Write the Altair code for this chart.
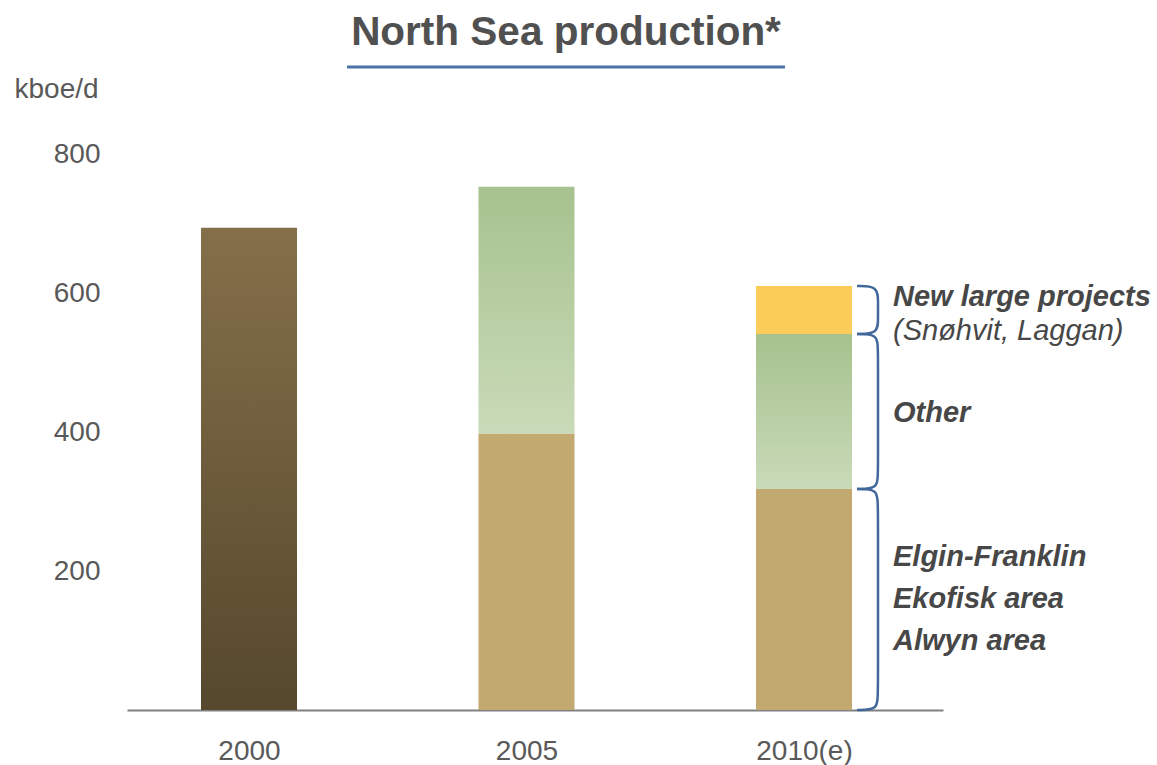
import altair as alt
import pandas as pd

# ---------------- data ----------------
years = ["2000", "2005", "2010(e)"]
seg_year = ["2000", "2005", "2005", "2010(e)", "2010(e)", "2010(e)"]
seg_name = ["Total", "Core", "Other", "Core", "Other", "New"]
seg_value = [694, 398, 355, 318, 223, 69]
y_ticks = [200, 400, 600, 800]

ann_text = ["New large projects", "(Snøhvit, Laggan)", "Other",
            "Elgin-Franklin", "Ekofisk area", "Alwyn area"]
ann_seg = ["New", "New", "Other", "Core", "Core", "Core"]
ann_weight = ["bold", "normal", "bold", "bold", "bold", "bold"]
ann_dy = [-13, 21, 2, -42, 0, 42]

title_text = "North Sea production*"
y_title = "kboe/d"

FONT = "Liberation Sans"
GREY = "#595959"
DARK = "#474747"
BLUE = "#41679b"

# ---------------- tables ----------------
rows = []
cum = {}
for yr, nm, v in zip(seg_year, seg_name, seg_value):
    s = cum.get(yr, 0)
    e = s + v
    cum[yr] = e
    rows.append(dict(pos=years.index(yr), year=yr, seg=nm, start=s, end=e))
seg_df = pd.DataFrame(rows)

last = seg_df[seg_df.year == years[-1]]
STEP = 277.5
x0 = 2 + 53 / STEP
xa = 2 + 74 / STEP
r = 23
brace_rows = []
for _, row in last.iterrows():
    pts = [(x0, row.end), (xa, row.end), (xa, row.end - r),
           (xa, row.start + r), (xa, row.start), (x0, row.start)]
    for i, (px, py) in enumerate(pts):
        brace_rows.append(dict(brace=row.seg, i=i, pos=px, start=py))
brace_df = pd.DataFrame(brace_rows)

# ---------------- encodings ----------------
x_scale = alt.Scale(domain=[-122 / STEP, (816 - 122) / STEP], nice=False,
                    zero=False, padding=0)
label_expr = "[" + ",".join(f"'{y}'" for y in years) + "][datum.value]"
x_axis = alt.Axis(values=[0, 1, 2], labelExpr=label_expr, title=None, grid=False,
                  ticks=False, tickSize=0, labelPadding=27, labelFontSize=28,
                  labelColor=GREY, labelFont=FONT, domainColor="#808080", domainWidth=2)
y_scale = alt.Scale(domain=[0, 800], nice=False, zero=True, padding=0)
y_axis = alt.Axis(values=y_ticks, title=y_title, titleAngle=0, titleX=-113, titleY=-57,
                  titleAlign="left", titleBaseline="alphabetic", titleFontSize=28,
                  titleFontWeight="normal", titleColor=GREY, titleFont=FONT,
                  grid=False, ticks=False, tickSize=0, domain=False, labelPadding=27,
                  labelFontSize=28, labelColor=GREY, labelFont=FONT)


def X():
    return alt.X("pos:Q", scale=x_scale, axis=x_axis)


def Y():
    return alt.Y("start:Q", scale=y_scale, axis=y_axis)


def grad(top, bottom):
    return alt.Gradient(gradient="linear", x1=0, x2=0, y1=0, y2=1,
                        stops=[alt.GradientStop(color=top, offset=0),
                               alt.GradientStop(color=bottom, offset=1)])


base = alt.Chart(seg_df)
bar_total = base.transform_filter(alt.datum.seg == "Total").mark_bar(
    size=96, fill=grad("#846f49", "#56482d")).encode(x=X(), y=Y(), y2="end:Q")
bar_core = base.transform_filter(alt.datum.seg == "Core").mark_bar(
    size=96, fill="#c1a96f").encode(x=X(), y=Y(), y2="end:Q")
bar_other = base.transform_filter(alt.datum.seg == "Other").mark_bar(
    size=96, fill=grad("#a6c28e", "#c9dab8")).encode(x=X(), y=Y(), y2="end:Q")
bar_new = base.transform_filter(alt.datum.seg == "New").mark_bar(
    size=96, fill="#fbcd58").encode(x=X(), y=Y(), y2="end:Q")

braces = alt.Chart(brace_df).mark_line(
    interpolate="basis", color=BLUE, strokeWidth=2.5).encode(
    x=X(), y=Y(), detail="brace:N", order="i:Q")

layers = [bar_total, bar_core, bar_other, bar_new, braces]

for txt, sg, wt, dy in zip(ann_text, ann_seg, ann_weight, ann_dy):
    row = last[last.seg == sg].iloc[0]
    d = pd.DataFrame([dict(pos=2, start=(row.start + row.end) / 2, label=txt)])
    layers.append(alt.Chart(d).mark_text(
        align="left", baseline="middle", dx=89, dy=dy, fontSize=29, font=FONT,
        fontStyle="italic", fontWeight=wt, color=DARK).encode(
        x=X(), y=Y(), text="label:N"))

one = pd.DataFrame([dict(label=title_text)])
title_mark = alt.Chart(one).mark_text(
    align="center", baseline="alphabetic", fontSize=40.5, fontWeight="bold",
    font=FONT, color="#505050").encode(
    x=alt.value(439), y=alt.value(-109), text="label:N")
underline = alt.Chart(one).mark_rule(color="#4a72a6", strokeWidth=3).encode(
    x=alt.value(220), x2=alt.value(658), y=alt.value(-87))
layers += [title_mark, underline]

chart = alt.layer(*layers).properties(
    width=816, height=556, autosize="none",
    padding={"left": 127, "top": 154, "right": 214, "bottom": 55},
    background="white",
).configure_view(stroke=None)

chart.save("out.html", embed_options={"renderer": "svg", "actions": False})
